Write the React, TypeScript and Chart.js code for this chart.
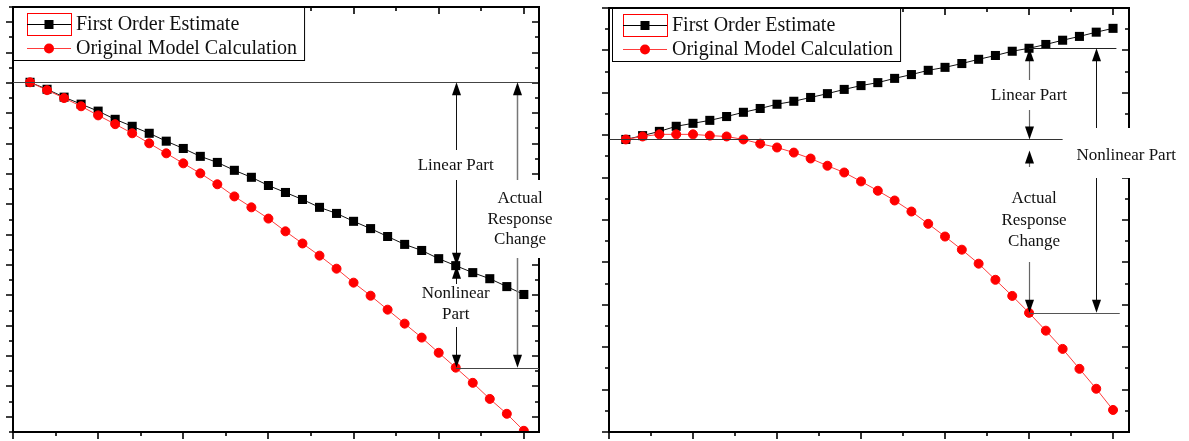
import React, { useEffect, useRef } from 'react';
import { Chart, registerables } from 'chart.js';

Chart.register(...registerables);

// ---------------- data ----------------
const stepIndex = [1, 2, 3, 4, 5, 6, 7, 8, 9, 10, 11, 12, 13, 14, 15, 16, 17, 18, 19, 20, 21, 22, 23, 24, 25, 26, 27, 28, 29, 30];

const leftFirstOrder = [11.02, 10.79, 10.53, 10.30, 10.07, 9.80, 9.57, 9.34, 9.08, 8.84, 8.58, 8.38, 8.12, 7.89, 7.62, 7.39, 7.16, 6.90, 6.70, 6.44, 6.20, 5.94, 5.68, 5.48, 5.21, 4.98, 4.75, 4.55, 4.29, 4.03];
const leftOriginal = [11.02, 10.76, 10.50, 10.23, 9.93, 9.64, 9.34, 9.01, 8.68, 8.35, 8.02, 7.66, 7.26, 6.90, 6.53, 6.11, 5.71, 5.31, 4.88, 4.42, 3.99, 3.53, 3.07, 2.61, 2.11, 1.62, 1.12, 0.59, 0.10, -0.46];

const rightFirstOrder = [6.90, 6.99, 7.09, 7.21, 7.28, 7.35, 7.44, 7.54, 7.63, 7.73, 7.80, 7.89, 7.98, 8.08, 8.17, 8.24, 8.34, 8.43, 8.53, 8.60, 8.69, 8.79, 8.88, 8.98, 9.05, 9.14, 9.24, 9.33, 9.43, 9.52];
const rightOriginal = [6.90, 6.97, 7.02, 7.02, 7.02, 6.99, 6.97, 6.90, 6.80, 6.71, 6.59, 6.45, 6.28, 6.12, 5.91, 5.69, 5.46, 5.20, 4.91, 4.61, 4.30, 3.97, 3.59, 3.21, 2.81, 2.39, 1.96, 1.49, 1.02, 0.52];

const xTickValues = [0, 2.5, 5, 7.5, 10, 12.5, 15, 17.5, 20, 22.5, 25, 27.5, 30];
const leftYTickValues = [-0.5, 0, 0.5, 1, 1.5, 2, 2.5, 3, 3.5, 4, 4.5, 5, 5.5, 6, 6.5, 7, 7.5, 8, 8.5, 9, 9.5, 10, 10.5, 11, 11.5, 12, 12.5, 13, 13.5];
const rightYTickValues = [0, 0.5, 1, 1.5, 2, 2.5, 3, 3.5, 4, 4.5, 5, 5.5, 6, 6.5, 7, 7.5, 8, 8.5, 9, 9.5, 10];

const legendLabels = ['First Order Estimate', 'Original Model Calculation'];
const linearLabel = ['Linear Part'];
const actualLabel = ['Actual', 'Response', 'Change'];
const nonlinearLeftLabel = ['Nonlinear', 'Part'];
const nonlinearRightLabel = ['Nonlinear Part'];

// ---------------- styling ----------------
const SERIF = '"Liberation Serif", "Times New Roman", serif';
const RED = '#ff0000';
const RED_LINE = '#ff3b3b';
const BLACK = '#000000';
const W = 1189;
const H = 441;

type Fn = (v: number) => number;

function arrowHead(ctx: CanvasRenderingContext2D, x: number, y: number, dir: number) {
  // dir = -1 pointing up, 1 pointing down; (x, y) is the tip
  const L = 13;
  const hw = 4.5;
  ctx.beginPath();
  ctx.moveTo(x, y);
  ctx.lineTo(x - hw, y - dir * L);
  ctx.lineTo(x + hw, y - dir * L);
  ctx.closePath();
  ctx.fillStyle = BLACK;
  ctx.fill();
}

function vArrow(ctx: CanvasRenderingContext2D, x: number, yTop: number, yBot: number, color: string, width: number) {
  ctx.beginPath();
  ctx.strokeStyle = color;
  ctx.lineWidth = width;
  ctx.moveTo(Math.round(x) + 0.5, yTop + 4);
  ctx.lineTo(Math.round(x) + 0.5, yBot - 4);
  ctx.stroke();
  arrowHead(ctx, Math.round(x) + 0.5, yTop, -1);
  arrowHead(ctx, Math.round(x) + 0.5, yBot, 1);
}

function hLine(ctx: CanvasRenderingContext2D, y: number, x1: number, x2: number, color: string, width: number) {
  ctx.beginPath();
  ctx.strokeStyle = color;
  ctx.lineWidth = width;
  const yy = Math.round(y) + 0.5;
  ctx.moveTo(x1, yy);
  ctx.lineTo(x2, yy);
  ctx.stroke();
}

function textBlock(
  ctx: CanvasRenderingContext2D,
  lines: string[],
  cx: number,
  baselines: number[],
  boxTop: number,
  boxBottom: number,
) {
  ctx.font = `17px ${SERIF}`;
  let maxW = 0;
  lines.forEach((l) => (maxW = Math.max(maxW, ctx.measureText(l).width)));
  ctx.fillStyle = '#ffffff';
  ctx.fillRect(cx - maxW / 2 - 3, boxTop, maxW + 6, boxBottom - boxTop);
  ctx.fillStyle = '#111111';
  ctx.textAlign = 'center';
  ctx.textBaseline = 'alphabetic';
  lines.forEach((l, i) => ctx.fillText(l, cx, baselines[i]));
}

function drawFrame(ctx: CanvasRenderingContext2D, area: any, X: Fn, Y: Fn, yTicks: number[]) {
  ctx.strokeStyle = BLACK;
  ctx.lineWidth = 2;
  ctx.strokeRect(area.left, area.top, area.right - area.left, area.bottom - area.top);
  ctx.lineWidth = 1.6;
  ctx.beginPath();
  xTickValues.forEach((v) => {
    const px = Math.round(X(v));
    if (px < area.left - 1 || px > area.right + 1) return;
    const len = v % 5 === 0 ? 7 : 4;
    ctx.moveTo(px, area.bottom);
    ctx.lineTo(px, area.bottom + len);
    ctx.moveTo(px, area.top);
    ctx.lineTo(px, area.top + len);
  });
  yTicks.forEach((v) => {
    const py = Math.round(Y(v));
    if (py < area.top - 1 || py > area.bottom + 1) return;
    const len = Number.isInteger(v) ? 7 : 4;
    ctx.moveTo(area.left, py);
    ctx.lineTo(area.left - len, py);
    ctx.moveTo(area.right, py);
    ctx.lineTo(area.right - len, py);
  });
  ctx.stroke();
}

function drawLegend(ctx: CanvasRenderingContext2D, area: any, boxLeftOffset: number) {
  const top = Math.round(area.top);
  const left = Math.round(area.left);
  ctx.font = `20px ${SERIF}`;
  const textX = left + 63;
  let maxW = 0;
  legendLabels.forEach((l) => (maxW = Math.max(maxW, ctx.measureText(l).width)));
  const boxL = left + boxLeftOffset;
  const boxR = textX + maxW + 7;
  ctx.fillStyle = '#ffffff';
  ctx.fillRect(boxL, top, boxR - boxL, 53);
  ctx.strokeStyle = BLACK;
  ctx.lineWidth = 1;
  ctx.strokeRect(boxL + 0.5, top + 0.5, boxR - boxL, 53);

  // entry 1 (selected-looking red outline)
  ctx.strokeStyle = RED;
  ctx.strokeRect(left + 14.5, top + 6.5, 44, 22);
  hLine(ctx, top + 17, left + 14, left + 58, BLACK, 1);
  ctx.fillStyle = BLACK;
  ctx.fillRect(left + 36 - 4.5, top + 17.5 - 4.5, 9, 9);
  // entry 2
  hLine(ctx, top + 41, left + 14, left + 58, RED_LINE, 1);
  ctx.beginPath();
  ctx.fillStyle = RED;
  ctx.arc(left + 36, top + 41.5, 5, 0, Math.PI * 2);
  ctx.fill();

  ctx.fillStyle = '#111111';
  ctx.textAlign = 'left';
  ctx.textBaseline = 'alphabetic';
  ctx.fillText(legendLabels[0], textX, top + 23);
  ctx.fillText(legendLabels[1], textX, top + 47);
}

function makeOverlay(id: string, yTicks: number[], boxLeftOffset: number, draw: (ctx: CanvasRenderingContext2D, X: Fn, Y: Fn, area: any) => void) {
  return {
    id,
    afterDraw(chart: any) {
      const ctx: CanvasRenderingContext2D = chart.ctx;
      const area = chart.chartArea;
      const X: Fn = (v) => chart.scales.x.getPixelForValue(v);
      const Y: Fn = (v) => chart.scales.y.getPixelForValue(v);
      ctx.save();
      drawFrame(ctx, area, X, Y, yTicks);
      draw(ctx, X, Y, area);
      drawLegend(ctx, area, boxLeftOffset);
      ctx.restore();
    },
  };
}

const leftOverlay = makeOverlay('leftOverlay', leftYTickValues, 0, (ctx, X, Y, area) => {
  const base = Y(leftFirstOrder[0]);
  const blackPt = Y(leftFirstOrder[25]);
  const redPt = Y(leftOriginal[25]);
  const ax = X(stepIndex[25]);
  const actualX = X(29.6);
  hLine(ctx, base, area.left, area.right - 2, '#444444', 1);
  hLine(ctx, redPt, ax, area.right, '#444444', 1);
  vArrow(ctx, ax, base, blackPt, '#111111', 1);
  vArrow(ctx, ax, blackPt, redPt, '#111111', 1);
  vArrow(ctx, actualX, base, redPt, '#777777', 1.5);
  textBlock(ctx, linearLabel, ax, [170], 150, 180);
  textBlock(ctx, actualLabel, actualX + 3, [203, 224, 244], 180, 258);
  textBlock(ctx, nonlinearLeftLabel, ax, [298, 319], 284, 327);
});

const rightOverlay = makeOverlay('rightOverlay', rightYTickValues, 3, (ctx, X, Y, area) => {
  const base = Y(rightOriginal[0]);
  const blackPt = Y(rightFirstOrder[24]);
  const redPt = Y(rightOriginal[24]);
  const ax = X(stepIndex[24]);
  const nx = X(29);
  hLine(ctx, base, area.left, X(27), '#333333', 1);
  hLine(ctx, blackPt, ax, X(30.2), '#222222', 1);
  hLine(ctx, redPt, ax, X(30.4), '#555555', 1);
  vArrow(ctx, ax, blackPt, base, '#666666', 1.2);
  vArrow(ctx, ax, base + 11, redPt, '#666666', 1.2);
  vArrow(ctx, nx, blackPt, redPt, '#111111', 1);
  textBlock(ctx, linearLabel, ax, [100], 80, 110);
  textBlock(ctx, actualLabel, ax + 5, [203, 225, 246], 167, 262);
  textBlock(ctx, nonlinearRightLabel, nx + 30, [160], 128, 178);
});

function buildConfig(first: number[], orig: number[], yMin: number, yMax: number, xMax: number, padding: any, overlay: any): any {
  return {
    type: 'line',
    data: {
      datasets: [
        {
          label: legendLabels[1],
          data: stepIndex.map((x, i) => ({ x, y: orig[i] })),
          borderColor: RED_LINE,
          borderWidth: 1,
          pointStyle: 'circle',
          pointRadius: 4.5,
          pointBackgroundColor: RED,
          pointBorderColor: RED,
          pointBorderWidth: 1,
          tension: 0,
        },
        {
          label: legendLabels[0],
          data: stepIndex.map((x, i) => ({ x, y: first[i] })),
          borderColor: '#111111',
          borderWidth: 1,
          pointStyle: 'rect',
          pointRadius: 6.4,
          pointBackgroundColor: BLACK,
          pointBorderColor: BLACK,
          pointBorderWidth: 0,
          tension: 0,
        },
      ],
    },
    options: {
      responsive: false,
      maintainAspectRatio: false,
      animation: false,
      devicePixelRatio: 1,
      events: [],
      layout: { padding },
      plugins: { legend: { display: false }, tooltip: { enabled: false }, title: { display: false } },
      scales: {
        x: { type: 'linear', display: false, min: 0, max: xMax },
        y: { type: 'linear', display: false, min: yMin, max: yMax },
      },
    },
    plugins: [overlay],
  };
}

export default function App() {
  const leftRef = useRef<HTMLCanvasElement>(null);
  const rightRef = useRef<HTMLCanvasElement>(null);

  useEffect(() => {
    const left = new Chart(
      leftRef.current as HTMLCanvasElement,
      buildConfig(leftFirstOrder, leftOriginal, -0.5, 13.5, 30.89, { left: 13, top: 7, right: W - 539, bottom: H - 432 }, leftOverlay),
    );
    const right = new Chart(
      rightRef.current as HTMLCanvasElement,
      buildConfig(rightFirstOrder, rightOriginal, 0, 10, 30.95, { left: 609, top: 8, right: W - 1129, bottom: H - 432 }, rightOverlay),
    );
    return () => {
      left.destroy();
      right.destroy();
    };
  }, []);

  const cstyle: React.CSSProperties = { position: 'absolute', left: 0, top: 0, width: W, height: H };
  return (
    <div style={{ position: 'absolute', left: 0, top: 0, width: W, height: H, background: '#ffffff' }}>
      <canvas ref={leftRef} width={W} height={H} style={cstyle} />
      <canvas ref={rightRef} width={W} height={H} style={cstyle} />
    </div>
  );
}
